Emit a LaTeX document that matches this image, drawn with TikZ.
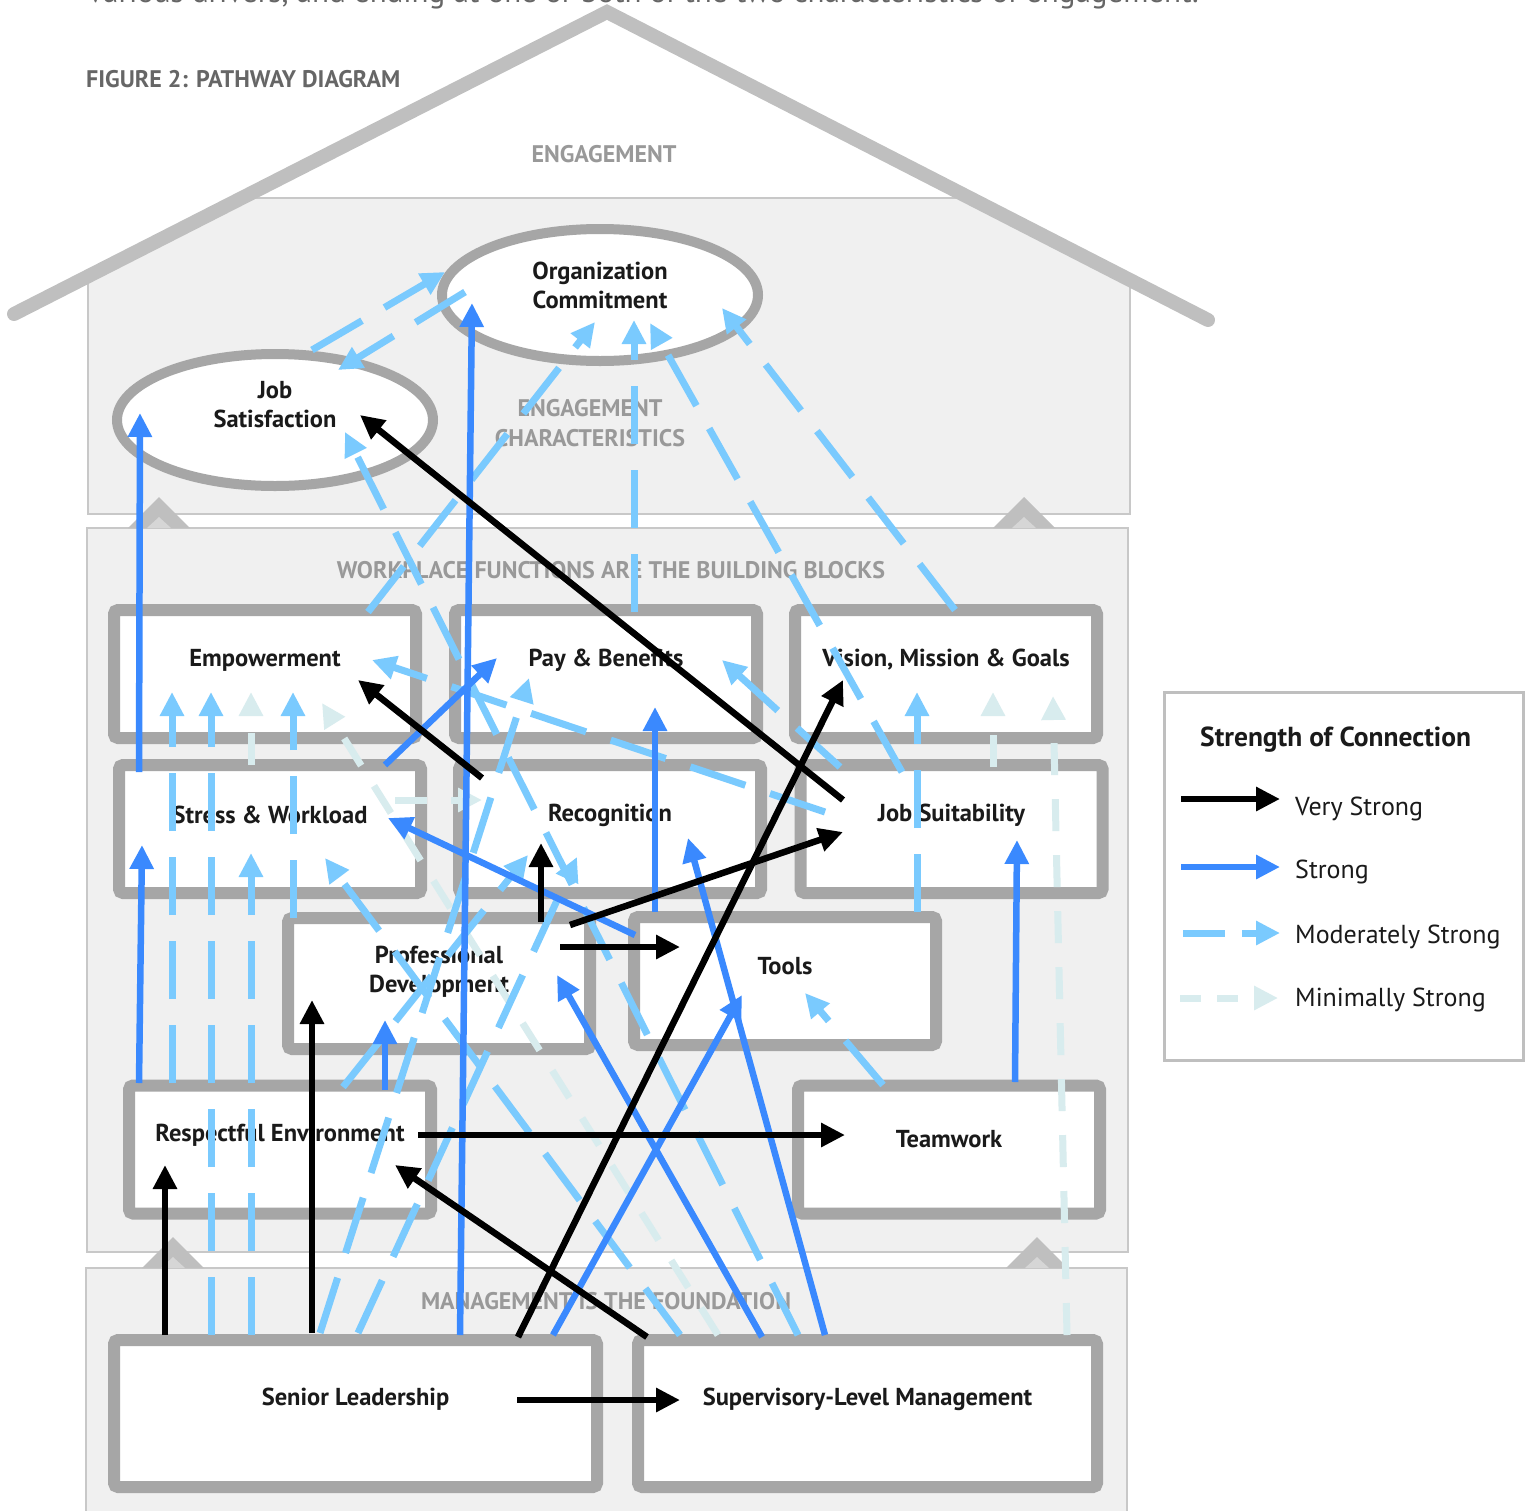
\documentclass[tikz,border=0pt]{standalone}
\usepackage{fontspec}
\setmainfont{PT Sans}
\usetikzlibrary{arrows.meta,calc,shapes.geometric}

\definecolor{sblue}{RGB}{58,137,254}
\definecolor{msblue}{RGB}{122,202,254}
\definecolor{mnblue}{RGB}{216,236,238}
\definecolor{boxgray}{RGB}{166,166,166}
\definecolor{roofgray}{RGB}{191,191,191}
\definecolor{chevgray}{RGB}{214,214,214}
\definecolor{panelgray}{RGB}{240,240,240}
\definecolor{panelline}{RGB}{200,200,200}
\definecolor{headgray}{RGB}{153,153,153}
\definecolor{figgray}{RGB}{102,102,102}
\definecolor{txtblack}{RGB}{26,26,26}

\begin{document}
\begin{tikzpicture}[x=1pt,y=1pt,yscale=-1,xscale=1,
		box/.style={draw=boxgray,line width=12pt,fill=white,rounded corners=4pt,minimum width=302pt,minimum height=128pt,inner sep=0pt},
		lbl/.style={font=\fontsize{24.5}{29}\selectfont\bfseries,text=txtblack,align=center,inner sep=0pt},
		boxlbl/.style={label={[lbl,shift={(0,14)}]center:{#1}}},
		oval/.style={ellipse,draw=boxgray,line width=10pt,fill=white,minimum width=316pt,minimum height=132pt,inner sep=0pt},
		head/.style={font=\fontsize{24}{30}\selectfont\bfseries,text=headgray,align=center,inner sep=0pt},
		legtxt/.style={font=\fontsize{26}{30}\selectfont,text=txtblack,anchor=base west,inner sep=0pt},
		tip/.style={-{Triangle[length=24pt,width=23pt]}},
		vstrong/.style={tip,draw=black,line width=6.5pt},
		strong/.style={tip,draw=sblue,line width=6.5pt},
		modstrong/.style={tip,draw=msblue,line width=7pt,dash pattern=on 58pt off 26pt},
		minstrong/.style={tip,draw=mnblue,line width=7pt,dash pattern=on 32pt off 24pt}]
		\useasboundingbox (0,0) rectangle (1526,1510);

		% Text Node
		\node[anchor=base west,inner sep=0pt,font=\fontsize{31}{34}\selectfont,text=figgray] (intro) at (88,2) {various drivers, and ending at one or both of the two characteristics of engagement.};

		%Shape: Rectangle (under the roof)
		\begin{scope}
			\clip (14,314) -- (607,12) -- (1208,320) -- (1208,560) -- (14,560) -- cycle;
			\draw[draw=panelline,line width=2pt,fill=panelgray] (88,198) rectangle (1130,514);
		\end{scope}
		%Shape: Rectangle
		\draw[draw=panelline,line width=2pt,fill=panelgray] (87,528) rectangle (1128,1252);
		%Shape: Rectangle
		\draw[draw=panelline,line width=2pt,fill=panelgray] (86,1268) rectangle (1127,1530);

		%Shape: Triangle
		\foreach \cx/\by in {159/528,1024/528,173/1268,1037/1268}{
			\fill[roofgray] (\cx-31,\by) -- (\cx,\by-31) -- (\cx+31,\by) -- cycle;
			\fill[chevgray] (\cx-12,\by) -- (\cx,\by-11) -- (\cx+12,\by) -- cycle;
		}

		%Straight Lines (roof)
		\draw[roofgray,line width=14pt,line cap=round,line join=miter] (14,314) -- (607,12) -- (1208,320);

		% Text Node
		\node[head,text=figgray,anchor=west] (fig) at (86,79) {FIGURE 2: PATHWAY DIAGRAM};
		% Text Node
		\node[head] (eng) at (604,154) {ENGAGEMENT};
		% Text Node
		\node[head] (engchar) at (590,423) {ENGAGEMENT\\CHARACTERISTICS};
		% Text Node
		\node[head] (work) at (611,570) {WORKPLACE FUNCTIONS ARE THE BUILDING BLOCKS};
		% Text Node
		\node[head] (found) at (606,1301) {MANAGEMENT IS THE FOUNDATION};

		%Shape: Ellipse
		\node[oval,label={[lbl,shift={(0,10)}]center:Organization\\Commitment}] (orgcom) at (600,295) {};
		%Shape: Ellipse
		\node[oval,label={[lbl,shift={(0,15)}]center:Job\\Satisfaction}] (jobsat) at (275,420) {};

		%Shape: Rectangle
		\node[box,boxlbl=Empowerment] (emp) at (265,674) {};
		\node[box,boxlbl={Pay \& Benefits}] (pay) at (606,674) {};
		\node[box,boxlbl={Vision, Mission \& Goals}] (vis) at (946,674) {};
		\node[box,boxlbl={Stress \& Workload}] (stress) at (270,829) {};
		\node[box,boxlbl=Recognition] (recog) at (610,829) {};
		\node[box,boxlbl={Job Suitability}] (jobsuit) at (951.5,829) {};
		\node[box,minimum height=131pt,label={[lbl,shift={(0,11.5)}]center:Professional\\Development}] (profdev) at (439,983.5) {};
		\node[box,label={[lbl,shift={(0,15)}]center:Tools}] (tools) at (785,981) {};
		\node[box,boxlbl={Respectful Environment}] (respenv) at (280,1149.5) {};
		\node[box,label={[lbl,shift={(0,10.5)}]center:Teamwork}] (team) at (949,1149.5) {};
		\node[box,minimum width=483pt,minimum height=147pt,boxlbl={Senior Leadership}] (senior) at (355.5,1413.5) {};
		\node[box,minimum width=459pt,minimum height=147pt,boxlbl={Supervisory-Level Management}] (superv) at (867.5,1413.5) {};

		%Shape: Rectangle (legend)
		\node[draw=roofgray,line width=3pt,fill=white,minimum width=359pt,minimum height=368pt,inner sep=0pt] (legend) at (1344,876.5) {};
		% Text Node
		\node[legtxt,font=\fontsize{27.5}{30}\selectfont\bfseries] (legtitle) at (1200,746) {Strength of Connection};
		\node[legtxt] (lvs) at (1295,815) {Very Strong};
		\node[legtxt] (ls) at (1295,878) {Strong};
		\node[legtxt] (lms) at (1295,943) {Moderately Strong};
		\node[legtxt] (lmn) at (1295,1006) {Minimally Strong};
		%Straight Lines
		\draw[vstrong] ($(lvs.base west)+(-114,-16)$) -- ($(lvs.base west)+(-15,-16)$);
		\draw[strong] ($(ls.base west)+(-114,-11)$) -- ($(ls.base west)+(-15,-11)$);
		\draw[modstrong,dash pattern=on 42pt off 17pt] ($(lms.base west)+(-112,-10)$) -- ($(lms.base west)+(-15,-10)$);
		\draw[minstrong,dash pattern=on 21pt off 16pt] ($(lmn.base west)+(-115,-8)$) -- ($(lmn.base west)+(-17,-8)$);

		%Straight Lines (minimally strong)
		\draw[minstrong] ($(stress)+(-19,-64)$) -- ($(emp)+(-14,18)$);
		\draw[minstrong] ($(stress)+(125,-29)$) -- ($(recog)+(-128,-29)$);
		\draw[minstrong] ($(jobsuit)+(41.5,-62)$) -- ($(vis)+(47,18)$);
		\draw[minstrong] ($(superv)+(199.5,-78.5)$) -- ($(vis)+(107,22)$);
		\draw[minstrong] ($(superv)+(-149.5,-78.5)$) -- ($(emp)+(57,29)$);

		%Straight Lines (moderately strong)
		\draw[modstrong] ($(jobsat)+(37,-70)$) -- ($(orgcom)+(-155,-23)$);
		\draw[modstrong] ($(orgcom)+(-135,-3)$) -- ($(jobsat)+(63,-50)$);
		\draw[modstrong] ($(superv)+(-69.5,-78.5)$) -- ($(jobsat)+(70,12)$);
		\draw[modstrong] ($(emp)+(103,-62)$) -- ($(orgcom)+(-5,27)$);
		\draw[modstrong] ($(pay)+(28,-62)$) -- ($(orgcom)+(34,25)$);
		\draw[modstrong] ($(jobsuit)+(-49.5,-57)$) -- ($(orgcom)+(50,28)$);
		\draw[modstrong] ($(vis)+(9,-64)$) -- ($(orgcom)+(122,13)$);
		\draw[modstrong] ($(respenv)+(-108,-66.5)$) -- ($(emp)+(-93,18)$);
		\draw[modstrong] ($(senior)+(-144.5,-78.5)$) -- ($(emp)+(-54,18)$);
		\draw[modstrong] ($(senior)+(-104.5,-78.5)$) -- ($(stress)+(-19,24)$);
		\draw[modstrong] ($(profdev)+(-146,-65.5)$) -- ($(emp)+(28,18)$);
		\draw[modstrong] ($(jobsuit)+(-126.5,-17)$) -- ($(emp)+(107,-14)$);
		\draw[modstrong] ($(senior)+(-35.5,-80.5)$) -- ($(pay)+(-77,4)$);
		\draw[modstrong] ($(jobsuit)+(-111.5,-62)$) -- ($(pay)+(116,-14)$);
		\draw[modstrong] ($(tools)+(132,-69)$) -- ($(vis)+(-29,18)$);
		\draw[modstrong] ($(superv)+(-187.5,-78.5)$) -- ($(stress)+(55,29)$);
		\draw[modstrong] ($(respenv)+(63,-62.5)$) -- ($(recog)+(-82,26)$);
		\draw[modstrong] ($(senior)+(2.5,-80.5)$) -- ($(recog)+(-33,28)$);
		\draw[modstrong] ($(team)+(-66,-64.5)$) -- ($(tools)+(20,12)$);

		%Straight Lines (strong)
		\draw[strong] ($(stress)+(-131,-57)$) -- ($(jobsat)+(-135,-7)$);
		\draw[strong] ($(senior)+(104.5,-78.5)$) -- ($(orgcom)+(-128,8)$);
		\draw[strong] ($(stress)+(115,-64)$) -- ($(pay)+(-109,-16)$);
		\draw[strong] ($(tools)+(-130,-69)$) -- ($(pay)+(49,33)$);
		\draw[strong] ($(tools)+(-150,-46)$) -- ($(stress)+(118,-11)$);
		\draw[strong] ($(superv)+(-42.5,-78.5)$) -- ($(recog)+(78,9)$);
		\draw[strong] ($(team)+(66,-67.5)$) -- ($(jobsuit)+(65.5,11)$);
		\draw[strong] ($(respenv)+(-141,-66.5)$) -- ($(stress)+(-128,16)$);
		\draw[strong] ($(respenv)+(105,-59.5)$) -- ($(profdev)+(-54,36.5)$);
		\draw[strong] ($(superv)+(-105.5,-76.5)$) -- ($(profdev)+(118,-8.5)$);
		\draw[strong] ($(senior)+(197.5,-78.5)$) -- ($(tools)+(-43,14)$);

		%Straight Lines (very strong)
		\draw[vstrong] ($(jobsuit)+(-108.5,-29)$) -- ($(jobsat)+(85,-5)$);
		\draw[vstrong] ($(recog)+(-128,-51)$) -- ($(emp)+(93,6)$);
		\draw[vstrong] ($(profdev)+(102,-61.5)$) -- ($(recog)+(-69,14)$);
		\draw[vstrong] ($(profdev)+(131,-58.5)$) -- ($(jobsuit)+(-108.5,3)$);
		\draw[vstrong] ($(profdev)+(121,-36.5)$) -- ($(tools)+(-105,-34)$);
		\draw[vstrong] ($(senior)+(-190.5,-78.5)$) -- ($(respenv)+(-115,15.5)$);
		\draw[vstrong] ($(senior)+(-43.5,-80.5)$) -- ($(profdev)+(-127,16.5)$);
		\draw[vstrong] ($(senior)+(162.5,-76.5)$) -- ($(vis)+(-103,6)$);
		\draw[vstrong] ($(superv)+(-220.5,-76.5)$) -- ($(respenv)+(115,15.5)$);
		\draw[vstrong] ($(respenv)+(138,-14.5)$) -- ($(team)+(-104,-14.5)$);
		\draw[vstrong] ($(senior)+(161.5,-13.5)$) -- ($(superv)+(-187.5,-13.5)$);
	\end{tikzpicture}
\end{document}
